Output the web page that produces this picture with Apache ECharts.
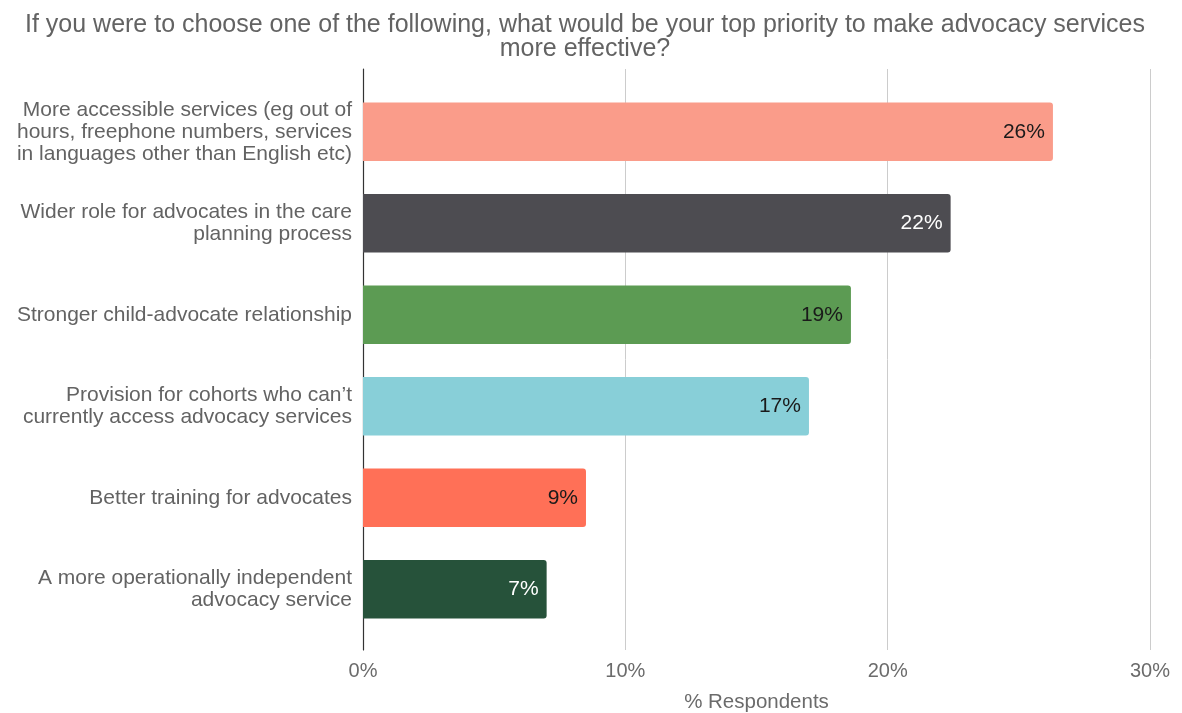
<!DOCTYPE html>
<html>
<head>
<meta charset="utf-8">
<script src="https://cdn.jsdelivr.net/npm/echarts@6/dist/echarts.min.js"></script>
<style>
  html, body { margin: 0; padding: 0; background: #fff; }
  #chart { width: 1182px; height: 713px; }
</style>
</head>
<body>
<div id="chart"></div>
<script>
// Survey answers, top to bottom
const categories = [
  'More accessible services (eg out of\nhours, freephone numbers, services\nin languages other than English etc)',
  'Wider role for advocates in the care\nplanning process',
  'Stronger child-advocate relationship',
  'Provision for cohorts who can\u2019t\ncurrently access advocacy services',
  'Better training for advocates',
  'A more operationally independent\nadvocacy service'
];
// Share of respondents (%)
const values = [26.3, 22.4, 18.6, 17.0, 8.5, 7.0];
const barColors = ['#FA9C8A', '#4D4C51', '#5C9B53', '#88CFD8', '#FF7057', '#26523A'];
const labelColors = ['#1a1a1a', '#ffffff', '#1a1a1a', '#1a1a1a', '#1a1a1a', '#ffffff'];
const xTicks = [0, 10, 20, 30];

const font = '"Liberation Sans", Arial, sans-serif';
const chart = echarts.init(document.getElementById('chart'), null, { renderer: 'canvas' });

const left = 363, right = 32;

chart.setOption({
  animation: false,
  textStyle: { fontFamily: font },
  title: {
    text: 'If you were to choose one of the following, what would be your top priority to make advocacy services\nmore effective?',
    left: 580,
    top: 8,
    textAlign: 'center',
    textStyle: { fontFamily: font, fontSize: 25, fontWeight: 'normal', color: '#636363', lineHeight: 24 }
  },
  grid: [
    // frame grid: gridlines, baseline and value ticks
    { left: left, right: right, top: 69, bottom: 63, outerBoundsMode: 'none' },
    // bar grid
    { left: left, right: right, top: 86, bottom: 78, outerBoundsMode: 'none' }
  ],
  xAxis: [
    {
      gridIndex: 0, type: 'value', min: xTicks[0], max: xTicks[xTicks.length - 1], interval: 10,
      axisLine: { show: false }, axisTick: { show: false },
      splitLine: { show: true, lineStyle: { color: '#cccccc', width: 1 } },
      axisLabel: { formatter: v => v + '%', fontSize: 20, color: '#6b6b6b', margin: 11, fontFamily: font },
      name: '% Respondents', nameLocation: 'middle', nameGap: 42,
      nameTextStyle: { fontSize: 20.5, color: '#6b6b6b', fontFamily: font }
    },
    {
      gridIndex: 1, type: 'value', min: 0, max: 30, show: false
    }
  ],
  yAxis: [
    {
      gridIndex: 0, type: 'category', data: [''],
      axisLine: { show: true, lineStyle: { color: '#333333', width: 1.2 } },
      axisTick: { show: false }, axisLabel: { show: false }, splitLine: { show: false }
    },
    {
      gridIndex: 1, type: 'category', data: categories, inverse: true,
      axisLine: { show: false }, axisTick: { show: false }, splitLine: { show: false },
      axisLabel: { fontSize: 21, color: '#636363', lineHeight: 22, margin: 11, align: 'right', fontFamily: font }
    }
  ],
  series: [{
    type: 'bar',
    xAxisIndex: 1,
    yAxisIndex: 1,
    barCategoryGap: '36%',
    data: values.map((v, i) => ({
      value: v,
      itemStyle: { color: barColors[i], borderRadius: [0, 3, 3, 0] },
      label: { color: labelColors[i] }
    })),
    label: {
      show: true,
      position: 'insideRight',
      distance: 8,
      fontSize: 21,
      fontFamily: font,
      formatter: p => Math.round(p.value) + '%'
    }
  }]
});
</script>
</body>
</html>
